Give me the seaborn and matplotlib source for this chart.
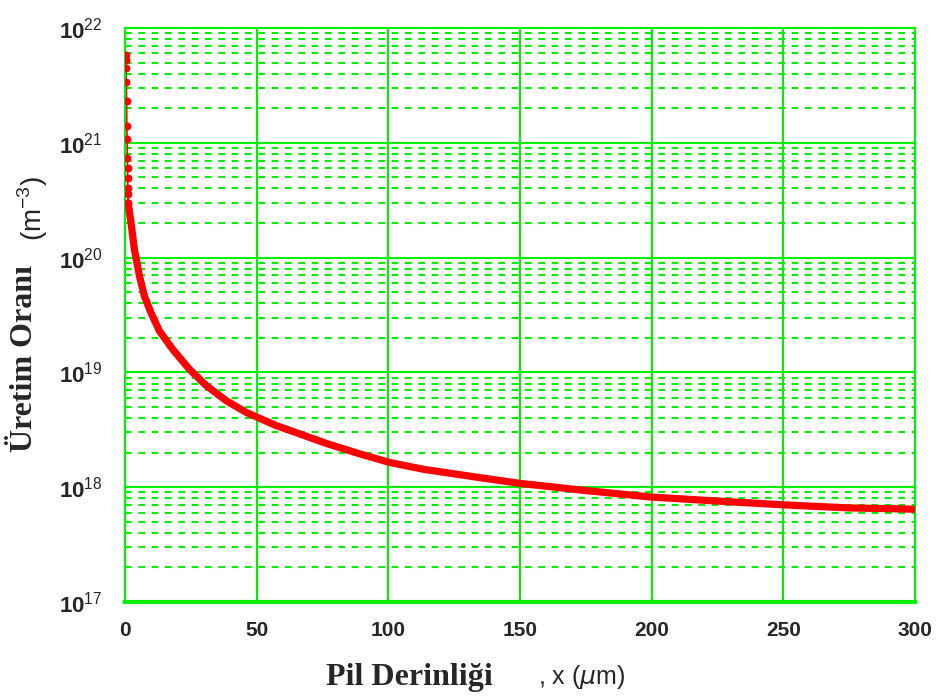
import numpy as np
import pandas as pd
import seaborn as sns
import matplotlib.pyplot as plt
from matplotlib.ticker import FixedLocator, FixedFormatter, LogLocator, MultipleLocator, NullFormatter

# ---- données ---- #
# points isolés près de la surface (x ~ 0)
x_surface = [0.3, 0.3, 0.4, 0.5, 0.6, 0.7, 0.8, 0.9, 0.95, 1.0, 1.05, 1.1, 1.2]
g_surface = [5.8e21, 5.3e21, 4.5e21, 3.4e21, 2.3e21, 1.4e21, 1.07e21, 7.4e20, 6.0e20,
             4.9e20, 4.0e20, 3.6e20, 3.0e20]

# courbe principale
x_depth = [1.2, 2.3, 3.6, 5.5, 7.4, 9.9, 13.1, 18.1, 24.4, 30.8, 38.3, 45.9, 57.3,
           63.9, 76.6, 89.2, 100.6, 113.5, 136.0, 150.0, 174.0, 200.0, 226.0, 251.0,
           275.0, 298.0, 300.0]
g_rate = [3.0e20, 2.0e20, 1.17e20, 6.9e19, 4.6e19, 3.3e19, 2.29e19, 1.59e19, 1.07e19,
          7.7e18, 5.7e18, 4.5e18, 3.45e18, 3.05e18, 2.4e18, 1.95e18, 1.64e18, 1.43e18,
          1.2e18, 1.08e18, 9.4e17, 8.2e17, 7.55e17, 7.0e17, 6.6e17, 6.45e17, 6.4e17]

y_major = [1e17, 1e18, 1e19, 1e20, 1e21, 1e22]
y_labels = [r"$\mathbf{10}^{17}$", r"$\mathbf{10}^{18}$", r"$\mathbf{10}^{19}$",
            r"$\mathbf{10}^{20}$", r"$\mathbf{10}^{21}$", r"$\mathbf{10}^{22}$"]
x_major = [0, 50, 100, 150, 200, 250, 300]

df_surf = pd.DataFrame({"x": x_surface, "g": g_surface})
df_main = pd.DataFrame({"x": x_depth, "g": g_rate})

vert = "#00f000"
rouge = "#ff0000"

sns.set_style("white")
plt.rcParams["mathtext.fontset"] = "custom"
plt.rcParams["mathtext.rm"] = "Liberation Sans"
plt.rcParams["mathtext.bf"] = "Liberation Sans:bold"
plt.rcParams["font.family"] = ["Liberation Sans", "DejaVu Sans"]

fig = plt.figure(figsize=(9.37, 6.97), dpi=100)
ax = fig.add_axes([125 / 937, 1 - 602 / 697, 790 / 937, 574 / 697])

# courbe
sns.lineplot(data=df_surf, x="x", y="g", color=rouge, lw=1.2, sort=False, estimator=None, ax=ax)
sns.scatterplot(data=df_surf, x="x", y="g", color=rouge, s=32, edgecolor=rouge, linewidth=0, ax=ax, zorder=5)
sns.lineplot(data=df_main, x="x", y="g", color=rouge, lw=5.2, sort=False, estimator=None, ax=ax, zorder=5)

ax.set_yscale("log")
ax.set_ylim(1e17, 1e22)
ax.set_xlim(0, 300)

# axes et grilles
ax.yaxis.set_major_locator(FixedLocator(y_major))
ax.yaxis.set_major_formatter(FixedFormatter(y_labels))
ax.yaxis.set_minor_locator(LogLocator(base=10, subs=np.arange(2, 10)))
ax.yaxis.set_minor_formatter(NullFormatter())
ax.xaxis.set_major_locator(FixedLocator(x_major))
ax.xaxis.set_minor_locator(MultipleLocator(10))

ax.grid(which="major", axis="both", color=vert, lw=1.5, ls="-")
ax.grid(which="minor", axis="y", color=vert, lw=1.5, ls=(0, (3.2, 3.2)))
ax.set_axisbelow(True)

ax.tick_params(axis="y", which="major", length=0, pad=16, labelsize=16)
ax.tick_params(axis="y", which="minor", length=0)
ax.tick_params(axis="x", which="major", length=0, pad=14, labelsize=15)
ax.tick_params(axis="x", which="minor", direction="in", length=5, width=1.5, color=vert)
for lab in ax.get_xticklabels():
    lab.set_fontweight("bold")

for s in ax.spines.values():
    s.set_color(vert)
    s.set_linewidth(1.5)
ax.spines["bottom"].set_linewidth(3)

ax.set_xlabel("")
ax.set_ylabel("")

# titres des axes
fig.text(409 / 937, 1 - 685 / 697, "Pil Derinliği", family="Liberation Serif", weight="bold",
         fontsize=23, ha="center", va="baseline")
fig.text(538 / 937, 1 - 684 / 697, r", x ($\mu$m)", fontsize=18, ha="left", va="baseline")
fig.text(25 / 937, 1 - 358 / 697, "Üretim Oranı", family="Liberation Serif", weight="bold",
         fontsize=23, rotation=90, ha="center", va="center")
fig.text(33 / 937, 1 - 208 / 697, r"(m$^{-3}$)", fontsize=20, rotation=90, ha="center", va="center")

fig.savefig("out.png", dpi=100, facecolor="white")
